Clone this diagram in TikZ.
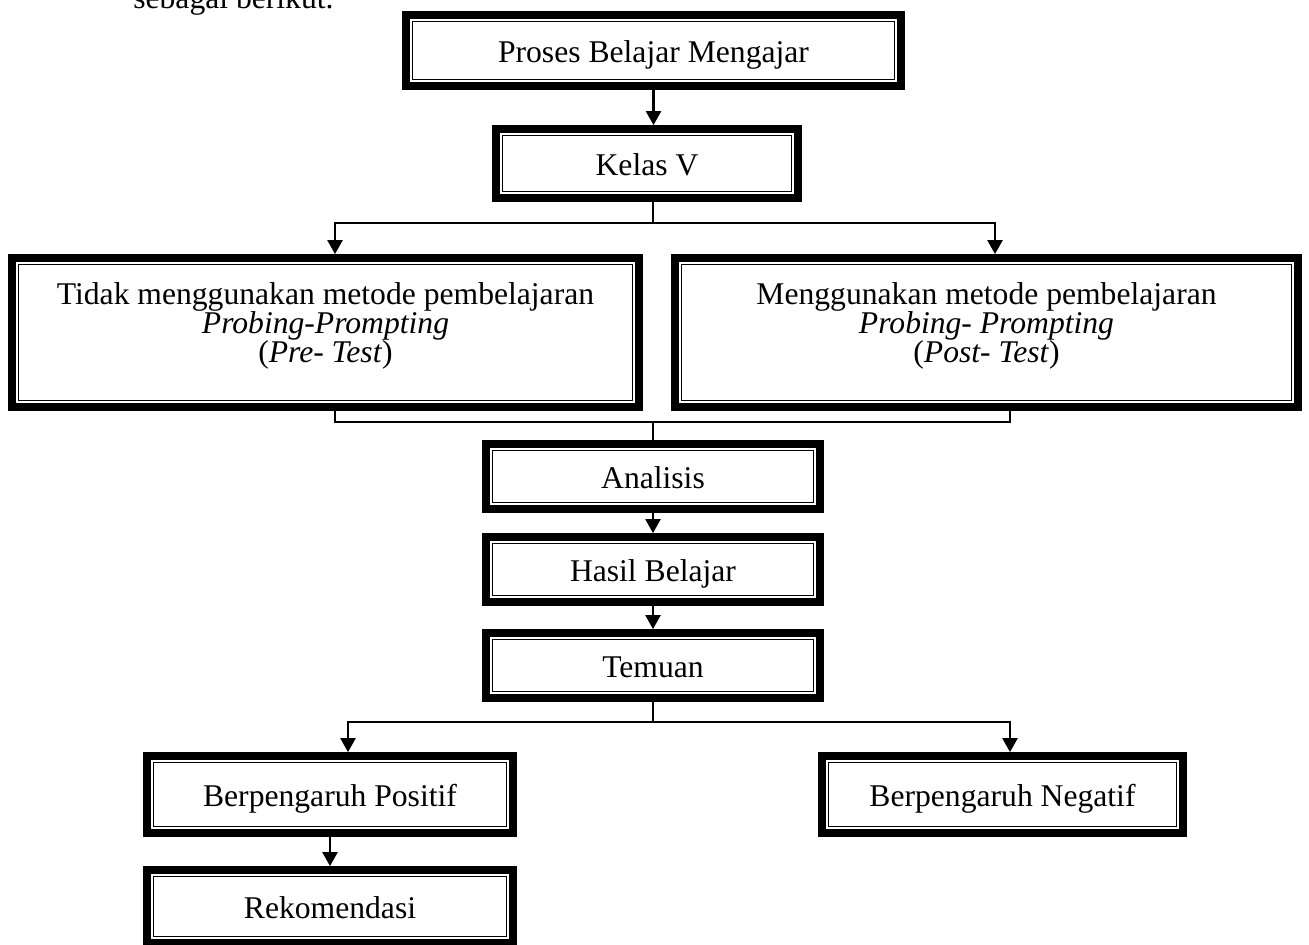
\documentclass[tikz,border=0pt]{standalone}
\usepackage{fontspec}
\setmainfont{Liberation Serif}
\usetikzlibrary{arrows.meta}
\def\px{0.02cm}

\begin{document}
\begin{tikzpicture}[x=\px,y=-\px,line width=1.5pt,
    font={\fontsize{18}{16}\selectfont\lineskiplimit=-10pt}]
    \tikzstyle{frame}=[draw,line width=4.4pt,inner sep=0pt,align=center,
        text height=13.5pt,text depth=0pt,
        path picture={\draw[line width=1pt]
            ([shift={(3.7pt,-3.7pt)}]path picture bounding box.north west) rectangle
            ([shift={(-3.7pt,3.7pt)}]path picture bounding box.south east);}]
    \tikzstyle{frame3}=[frame,text height=37.5pt,text depth=,
        font={\fontsize{18}{16.5}\selectfont\lineskiplimit=-10pt}]
    \tikzstyle{arr}=[-{Triangle[width=8.5pt,length=8pt]}]

    \useasboundingbox (0,0) rectangle (1309,944);

    % Text of the page above the chart
    \node[anchor=base west,inner sep=0pt] (intro) at (132,8) {sebagai berikut.};

    % Top of the chart
    \node[frame,minimum width=495*\px,minimum height=71*\px] (proses) at (653.5,50.5) {Proses Belajar Mengajar};
    \node[frame,minimum width=302*\px,minimum height=69*\px] (kelas) at (647,163.5) {Kelas V};

    % The two groups
    \node[frame3,minimum width=627*\px,minimum height=149*\px] (tidak) at (325.5,332.5)
        {Tidak menggunakan metode pembelajaran\\ \textit{Probing-Prompting}\\ (\textit{Pre- Test})};
    \node[frame3,minimum width=623*\px,minimum height=149*\px] (pakai) at (986.5,332.5)
        {Menggunakan metode pembelajaran\\ \textit{Probing- Prompting}\\ (\textit{Post- Test})};

    % Middle column
    \node[frame,minimum width=334*\px,minimum height=65*\px] (analisis) at (653,476.5) {Analisis};
    \node[frame,minimum width=334*\px,minimum height=65*\px] (hasil) at (653,569.5) {Hasil Belajar};
    \node[frame,minimum width=334*\px,minimum height=65*\px] (temuan) at (653,665.5) {Temuan};

    % Findings
    \node[frame,minimum width=366*\px,minimum height=77*\px] (positif) at (330,794.5) {Berpengaruh Positif};
    \node[frame,minimum width=361*\px,minimum height=77*\px] (negatif) at (1002.5,794.5) {Berpengaruh Negatif};
    \node[frame,minimum width=366*\px,minimum height=73*\px] (rekom) at (330,906.5) {Rekomendasi};

    % Connect the top boxes
    \draw[arr] (proses.south) -- (proses.south |- kelas.north);

    % Split into the two groups
    \coordinate (kmid) at (653,223);
    \coordinate (kleft) at (335,223);
    \coordinate (kright) at (995,223);
    \draw (kmid |- kelas.south) -- (kmid);
    \draw[arr] (kmid) -| (kleft |- tidak.north);
    \draw[arr] (kmid) -| (kright |- pakai.north);

    % Join the two groups
    \coordinate (bleft) at (335,422);
    \coordinate (bright) at (1010,422);
    \coordinate (bmid) at (653,422);
    \draw (bleft |- tidak.south) -- (bleft) -- (bright) -- (bright |- pakai.south);
    \draw (bmid) -- (bmid |- analisis.north);

    \draw[arr] (analisis) -- (hasil);
    \draw[arr] (hasil) -- (temuan);

    % Split into the findings
    \coordinate (tmid) at (653,722);
    \coordinate (tleft) at (348,722);
    \coordinate (tright) at (1010,722);
    \draw (temuan.south) -- (tmid);
    \draw[arr] (tmid) -| (tleft |- positif.north);
    \draw[arr] (tmid) -| (tright |- negatif.north);

    \draw[arr] (positif) -- (rekom);

\end{tikzpicture}
\end{document}
